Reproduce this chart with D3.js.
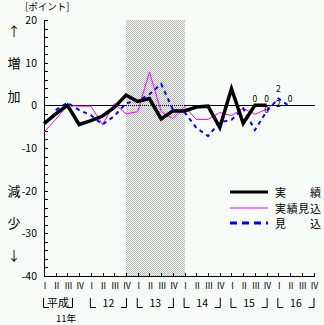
<!DOCTYPE html>
<html><head><meta charset="utf-8">
<script src="https://cdn.jsdelivr.net/npm/d3@7"></script>
<style>
html,body{margin:0;padding:0;background:#f8fcf8;}
svg{display:block;}
text{font-family:"Noto Sans CJK JP","DejaVu Sans",sans-serif;fill:#000;}
</style></head>
<body>
<script>
// ---- data ----
const quarters = ["Ⅰ","Ⅱ","Ⅲ","Ⅳ","Ⅰ","Ⅱ","Ⅲ","Ⅳ","Ⅰ","Ⅱ","Ⅲ","Ⅳ","Ⅰ","Ⅱ","Ⅲ","Ⅳ","Ⅰ","Ⅱ","Ⅲ","Ⅳ","Ⅰ","Ⅱ","Ⅲ","Ⅳ"];
const years = ["平成","12","13","14","15","16"];
const jisseki = [-4.3,-2,0,-4.5,-3.6,-2.5,-0.5,2.4,0.9,1.6,-3.2,-1.3,-1.3,-0.4,-0.2,-5.2,3.9,-4.2,0,0];
const jissekiMikomi = [-6.3,-3.3,0,-0.2,-0.2,-4.5,0.4,-2.0,-1.5,7.8,-1.5,-3.1,-0.3,-3.3,-3.3,-1.7,-2.4,-0.7,-2.1,-0.9,1.3];
const mikomiStart = 1;
const mikomi = [-1.1,0.6,-1.1,-2.3,-4.5,-2.5,0.5,1.0,2.6,5.0,-1.0,-1.6,-5.3,-7.2,-4.0,-3.4,-0.7,-5.8,-1.4,1.6,-0.3];
const yTicks = [20,10,0,-10,-20,-30,-40];
const shadeFrom = 7, shadeTo = 12;
const pointLabels = [ // [index, value, text, dy]
  [18,0,"0",-3.3],[19,0,"0",-3.3],[20,1.6,"2",-6.5],[21,-0.3,"0",-4.6],[19,-0.9,"0",4],[20,1.3,"2",7.2]
];

const W=324,H=325;
const svg=d3.select("body").append("svg").attr("width",W).attr("height",H);
const x=d3.scaleLinear().domain([0,23]).range([44,313.5]);
const y=d3.scaleLinear().domain([-40,20]).range([276,20]);

// pattern for shading
const defs=svg.append("defs");
const pat=defs.append("pattern").attr("id","chk").attr("patternUnits","userSpaceOnUse").attr("width",2).attr("height",2);
pat.append("rect").attr("x",0).attr("y",0).attr("width",1).attr("height",1).attr("fill","#b8b8b8");
pat.append("rect").attr("x",1).attr("y",1).attr("width",1).attr("height",1).attr("fill","#b8b8b8");

// zero line
svg.append("line").attr("x1",44).attr("x2",315).attr("y1",Math.round(y(0))+0.5).attr("y2",Math.round(y(0))+0.5).attr("stroke","#000").attr("stroke-width",1);

// shading
svg.append("rect").attr("x",Math.round(x(shadeFrom))).attr("y",20).attr("width",Math.round(x(shadeTo))-Math.round(x(shadeFrom))).attr("height",256).attr("fill","url(#chk)");

// y axis
svg.append("line").attr("x1",44.5).attr("x2",44.5).attr("y1",20).attr("y2",276).attr("stroke","#000");
for(let v=-40; v<=20; v+=2){
  svg.append("line").attr("x1",44).attr("x2",48).attr("y1",Math.round(y(v))+0.5).attr("y2",Math.round(y(v))+0.5).attr("stroke","#000");
}
svg.selectAll("text.yt").data(yTicks).enter().append("text").attr("class","yt")
  .attr("x",37).attr("y",d=>y(d)+4).attr("text-anchor","end").attr("font-size",10.5).text(d=>d);

// x axis
svg.append("line").attr("x1",44).attr("x2",315).attr("y1",276.5).attr("y2",276.5).attr("stroke","#000");
quarters.forEach((q,i)=>{
  svg.append("line").attr("x1",Math.round(x(i))+0.5).attr("x2",Math.round(x(i))+0.5).attr("y1",273).attr("y2",276).attr("stroke","#000");
});
svg.selectAll("text.q").data(quarters).enter().append("text").attr("class","q")
  .attr("x",(d,i)=>x(i)+1).attr("y",289).attr("text-anchor","middle").attr("font-size",8.5).text(d=>d);

// year brackets
years.forEach((yr,k)=>{
  let xl=x(4*k)-1, xr=x(4*k+3)+1;
  if(k===0){ xr=73; }
  const p=d3.path();
  p.moveTo(xl+0.5,298); p.lineTo(xl+0.5,307.5); p.lineTo(xl+6,307.5);
  p.moveTo(xr-6,307.5); p.lineTo(xr-0.5,307.5); p.lineTo(xr-0.5,298);
  svg.append("path").attr("d",p.toString()).attr("fill","none").attr("stroke","#000");
  svg.append("text").attr("x",(xl+xr)/2).attr("y",307).attr("text-anchor","middle")
    .attr("font-size",k===0?11:10.5).text(yr);
});
svg.append("text").attr("x",66).attr("y",321.5).attr("text-anchor","middle").attr("font-size",9.5).text("11年");

// left labels
svg.append("text").attr("x",25).attr("y",10).attr("font-size",9.5).text("[ポイント]");
[["↑",36],["増",68],["加",101],["減",196],["少",228],["↓",260]].forEach(([t,yy])=>{
  svg.append("text").attr("x",14).attr("y",yy).attr("text-anchor","middle").attr("font-size",13).text(t);
});

// lines
const line=d3.line().x(d=>x(d[0])).y(d=>y(d[1]));
svg.append("path").attr("d",line(jissekiMikomi.map((v,i)=>[i,v]))).attr("fill","none").attr("stroke","#ff00ff").attr("stroke-width",1);
svg.append("path").attr("d",line(mikomi.map((v,i)=>[i+mikomiStart,v]))).attr("fill","none").attr("stroke","#0000ff").attr("stroke-width",2).attr("stroke-dasharray","4,4");
svg.append("path").attr("d",line(jisseki.map((v,i)=>[i,v]))).attr("fill","none").attr("stroke","#000").attr("stroke-width",3.5).attr("stroke-linejoin","miter");

// point labels
pointLabels.forEach(([i,v,t,dy])=>{
  svg.append("text").attr("x",x(i)).attr("y",y(v)+dy).attr("text-anchor","middle").attr("font-size",8.5).text(t);
});

// legend
const lg=[["実　　績","#000",3,null,192],["実績見込","#ff00ff",1,null,208],["見　　込","#0000ff",3,"7,5",223]];
lg.forEach(([t,c,w,da,yy])=>{
  const l=svg.append("line").attr("x1",230).attr("x2",268).attr("y1",yy).attr("y2",yy).attr("stroke",c).attr("stroke-width",w);
  if(da) l.attr("stroke-dasharray",da);
  svg.append("text").attr("x",275).attr("y",yy+4.5).attr("font-size",11).attr("textLength",46).attr("lengthAdjust","spacing").text(t);
});
</script>
</body></html>
